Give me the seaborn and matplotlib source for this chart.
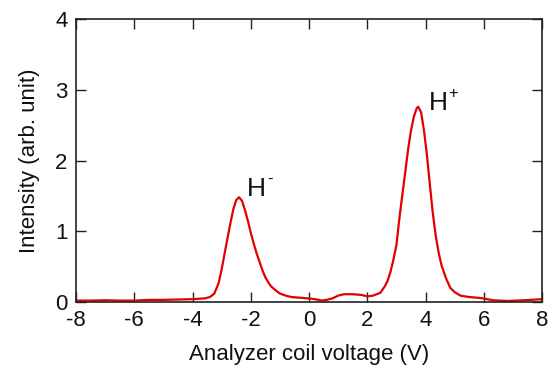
import matplotlib
matplotlib.use("Agg")
import matplotlib.pyplot as plt
import seaborn as sns
import pandas as pd

voltage = [-8.0, -7.5, -7.0, -6.5, -6.0, -5.5, -5.0, -4.5, -4.0, -3.6, -3.4, -3.25,
           -3.1, -3.0, -2.9, -2.8, -2.7, -2.6, -2.5, -2.4, -2.3, -2.2, -2.1, -2.0,
           -1.9, -1.8, -1.7, -1.6, -1.5, -1.4, -1.3, -1.1, -1.0, -0.8, -0.6, -0.3,
           0.0, 0.2, 0.45, 0.6, 0.8, 1.0, 1.2, 1.5, 1.8, 2.0, 2.2, 2.45, 2.6, 2.7,
           2.8, 2.9, 3.0, 3.1, 3.2, 3.3, 3.4, 3.5, 3.6, 3.7, 3.75, 3.85, 3.95, 4.05,
           4.15, 4.25, 4.35, 4.45, 4.55, 4.7, 4.85, 5.0, 5.2, 5.5, 5.8, 6.0, 6.3,
           6.8, 7.4, 8.0]
intensity = [0.02, 0.02, 0.025, 0.02, 0.02, 0.03, 0.03, 0.035, 0.04, 0.05, 0.07, 0.12,
             0.27, 0.46, 0.68, 0.90, 1.11, 1.31, 1.44, 1.48, 1.43, 1.30, 1.15, 0.98,
             0.83, 0.69, 0.57, 0.45, 0.35, 0.28, 0.22, 0.15, 0.12, 0.09, 0.07, 0.06,
             0.05, 0.04, 0.02, 0.03, 0.05, 0.09, 0.11, 0.11, 0.10, 0.08, 0.09, 0.13, 0.22, 0.30,
             0.43, 0.60, 0.80, 1.17, 1.50, 1.82, 2.15, 2.42, 2.62, 2.74, 2.76, 2.68, 2.42, 2.07,
             1.66, 1.26, 0.94, 0.70, 0.52, 0.34, 0.20, 0.14, 0.09, 0.07, 0.06, 0.05, 0.025,
             0.015, 0.025, 0.04]

x_ticks = [-8, -6, -4, -2, 0, 2, 4, 6, 8]
y_ticks = [0, 1, 2, 3, 4]
peak_names = ["H", "H"]
peak_signs = ["-", "+"]
label_pos_x = [-2.12, 4.1]
label_pos_y = [1.50, 2.71]

df = pd.DataFrame({"voltage": voltage, "intensity": intensity})

sns.set_theme(style="ticks")
plt.rcParams["font.family"] = ["Liberation Sans", "DejaVu Sans"]

fig = plt.figure(figsize=(5.49, 3.67), dpi=100)
ax = fig.add_axes([76/549, 1 - 302/367, (542-76)/549, (302-19)/367])

sns.lineplot(data=df, x="voltage", y="intensity", ax=ax, color="#e30000",
             linewidth=1.6, estimator=None, sort=False)

ax.set_xlim(-8, 8)
ax.set_ylim(0, 4)
ax.set_xticks(x_ticks)
ax.set_yticks(y_ticks)
ax.set_xticklabels([str(t) for t in x_ticks])
ax.set_yticklabels([str(t) for t in y_ticks])
ax.tick_params(direction="in", length=7, width=1.0, top=True, right=True,
               labelsize=16, color="#222222", labelcolor="#111111")
ax.tick_params(axis="x", pad=6)
ax.tick_params(axis="y", pad=6)
for s in ax.spines.values():
    s.set_linewidth(1.2)
    s.set_color("#222222")

ax.set_xlabel("Analyzer coil voltage (V)", fontsize=16, color="#111111", labelpad=9)
ax.set_ylabel("Intensity (arb. unit)", fontsize=16, color="#111111", labelpad=11)

for name, sign, lx, ly in zip(peak_names, peak_signs, label_pos_x, label_pos_y):
    ax.text(lx, ly, name, fontsize=19, color="#111111", ha="left", va="baseline")
    ax.annotate(sign, xy=(lx, ly), xytext=(14.5, 8.5), textcoords="offset points",
                fontsize=12, color="#111111", ha="left", va="baseline")

fig.savefig("out.png", dpi=100)
